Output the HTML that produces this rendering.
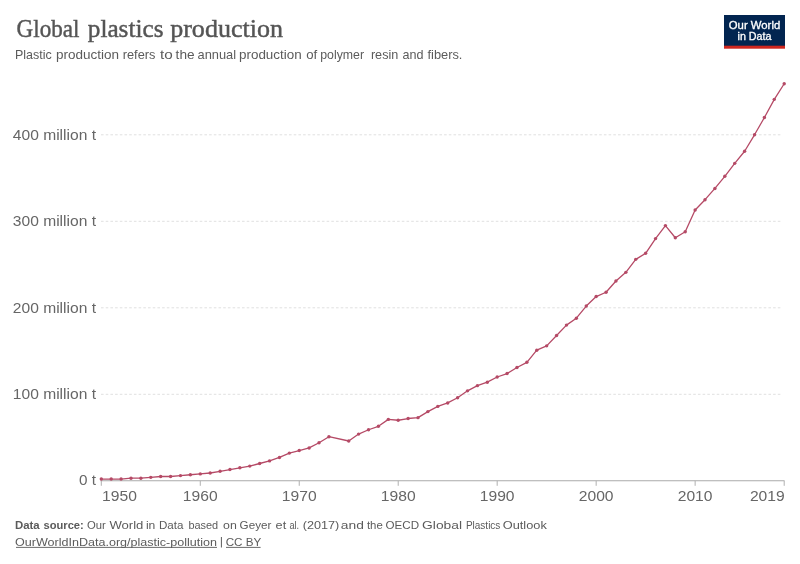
<!DOCTYPE html>
<html><head><meta charset="utf-8"><style>
html,body{margin:0;padding:0;background:#fff;width:800px;height:564px;overflow:hidden}
svg{display:block;will-change:transform}
</style></head><body>
<svg width="800" height="564" viewBox="0 0 800 564">
<rect width="800" height="564" fill="#fff"/>
<g font-family="Liberation Serif" font-size="26" stroke="#555" stroke-width="0.45" fill="#555">
<text x="16.6" y="36.7" textLength="62.8" lengthAdjust="spacingAndGlyphs">Global</text>
<text x="87.8" y="36.7" textLength="75.7" lengthAdjust="spacingAndGlyphs">plastics</text>
<text x="170.2" y="36.7" textLength="112.8" lengthAdjust="spacingAndGlyphs">production</text>
</g>
<g font-family="Liberation Sans" font-size="13.2" fill="#5b5b5b"><text x="14.99" y="59" textLength="36.78" lengthAdjust="spacingAndGlyphs">Plastic</text><text x="55.91" y="59" textLength="63.03" lengthAdjust="spacingAndGlyphs">production</text><text x="122.74" y="59" textLength="32.68" lengthAdjust="spacingAndGlyphs">refers</text><text x="160.0" y="59" textLength="12.74" lengthAdjust="spacingAndGlyphs">to</text><text x="175.6" y="59" textLength="18.96" lengthAdjust="spacingAndGlyphs">the</text><text x="197.5" y="59" textLength="38.56" lengthAdjust="spacingAndGlyphs">annual</text><text x="239.01" y="59" textLength="62.65" lengthAdjust="spacingAndGlyphs">production</text><text x="306.25" y="59" textLength="11.01" lengthAdjust="spacingAndGlyphs">of</text><text x="320.26" y="59" textLength="43.8" lengthAdjust="spacingAndGlyphs">polymer</text><text x="370.93" y="59" textLength="27.36" lengthAdjust="spacingAndGlyphs">resin</text><text x="402.5" y="59" textLength="21.0" lengthAdjust="spacingAndGlyphs">and</text><text x="427.5" y="59" textLength="34.91" lengthAdjust="spacingAndGlyphs">fibers.</text></g>
<g>
<rect x="724" y="15" width="61" height="31" fill="#022550"/>
<rect x="724" y="45.7" width="61" height="3" fill="#ce261e"/>
<text x="754.5" y="28.8" font-family="Liberation Sans" font-size="10.4" fill="#fff" stroke="#fff" stroke-width="0.3" text-anchor="middle" textLength="51.4" lengthAdjust="spacingAndGlyphs">Our World</text>
<text x="754.5" y="39.9" font-family="Liberation Sans" font-size="10.4" fill="#fff" stroke="#fff" stroke-width="0.3" text-anchor="middle" textLength="34" lengthAdjust="spacingAndGlyphs">in Data</text>
</g>
<line x1="101" y1="394.30" x2="782.5" y2="394.30" stroke="#e0e0e0" stroke-width="1" stroke-dasharray="2.6,2.1"/><line x1="101" y1="307.80" x2="782.5" y2="307.80" stroke="#e0e0e0" stroke-width="1" stroke-dasharray="2.6,2.1"/><line x1="101" y1="221.30" x2="782.5" y2="221.30" stroke="#e0e0e0" stroke-width="1" stroke-dasharray="2.6,2.1"/><line x1="101" y1="134.80" x2="782.5" y2="134.80" stroke="#e0e0e0" stroke-width="1" stroke-dasharray="2.6,2.1"/>
<line x1="100.5" y1="480.80" x2="784.5" y2="480.80" stroke="#aaa" stroke-width="1.1"/>
<line x1="101.30" y1="480.80" x2="101.30" y2="485.80" stroke="#b0b0b0" stroke-width="1"/><line x1="200.27" y1="480.80" x2="200.27" y2="485.80" stroke="#b0b0b0" stroke-width="1"/><line x1="299.24" y1="480.80" x2="299.24" y2="485.80" stroke="#b0b0b0" stroke-width="1"/><line x1="398.21" y1="480.80" x2="398.21" y2="485.80" stroke="#b0b0b0" stroke-width="1"/><line x1="497.18" y1="480.80" x2="497.18" y2="485.80" stroke="#b0b0b0" stroke-width="1"/><line x1="596.16" y1="480.80" x2="596.16" y2="485.80" stroke="#b0b0b0" stroke-width="1"/><line x1="695.13" y1="480.80" x2="695.13" y2="485.80" stroke="#b0b0b0" stroke-width="1"/><line x1="784.20" y1="480.80" x2="784.20" y2="485.80" stroke="#b0b0b0" stroke-width="1"/>
<g font-family="Liberation Sans" font-size="15" fill="#666"><text x="96" y="399.30" text-anchor="end" textLength="83.2" lengthAdjust="spacingAndGlyphs">100 million t</text><text x="96" y="312.80" text-anchor="end" textLength="83.2" lengthAdjust="spacingAndGlyphs">200 million t</text><text x="96" y="226.30" text-anchor="end" textLength="83.2" lengthAdjust="spacingAndGlyphs">300 million t</text><text x="96" y="139.80" text-anchor="end" textLength="83.2" lengthAdjust="spacingAndGlyphs">400 million t</text><text x="96" y="485.4" text-anchor="end" textLength="17" lengthAdjust="spacingAndGlyphs">0 t</text><text x="102.10" y="500.7" text-anchor="start" textLength="34.8" lengthAdjust="spacingAndGlyphs">1950</text><text x="200.27" y="500.7" text-anchor="middle" textLength="34.8" lengthAdjust="spacingAndGlyphs">1960</text><text x="299.24" y="500.7" text-anchor="middle" textLength="34.8" lengthAdjust="spacingAndGlyphs">1970</text><text x="398.21" y="500.7" text-anchor="middle" textLength="34.8" lengthAdjust="spacingAndGlyphs">1980</text><text x="497.18" y="500.7" text-anchor="middle" textLength="34.8" lengthAdjust="spacingAndGlyphs">1990</text><text x="596.16" y="500.7" text-anchor="middle" textLength="34.8" lengthAdjust="spacingAndGlyphs">2000</text><text x="695.13" y="500.7" text-anchor="middle" textLength="34.8" lengthAdjust="spacingAndGlyphs">2010</text><text x="784.70" y="500.7" text-anchor="end" textLength="34.8" lengthAdjust="spacingAndGlyphs">2019</text></g>
<polyline points="101.30,479.07 111.20,479.07 121.09,479.07 130.99,478.20 140.89,478.20 150.79,477.34 160.68,476.48 170.58,476.48 180.48,475.61 190.37,474.75 200.27,473.88 210.17,473.01 220.07,471.29 229.96,469.56 239.86,467.82 249.76,466.10 259.65,463.50 269.55,460.91 279.45,457.44 289.34,453.12 299.24,450.53 309.14,447.93 319.04,442.74 328.93,436.69 348.73,441.01 358.62,434.09 368.52,429.76 378.42,426.31 388.32,419.38 398.21,420.25 408.11,418.52 418.01,417.66 427.90,411.60 437.80,406.41 447.70,402.95 457.60,397.76 467.49,390.84 477.39,385.65 487.29,382.19 497.18,377.00 507.08,373.54 516.98,367.49 526.88,362.30 536.77,350.19 546.67,345.86 556.57,335.48 566.46,325.10 576.36,318.18 586.26,306.07 596.16,296.56 606.05,292.23 615.95,280.99 625.85,272.34 635.74,259.36 645.64,253.31 655.54,238.60 665.43,225.62 675.33,237.74 685.23,231.68 695.13,210.06 705.02,199.68 714.92,188.43 724.82,176.32 734.71,163.35 744.61,151.24 754.51,134.80 764.41,117.50 774.30,99.34 784.20,83.76" fill="none" stroke="#b54a66" stroke-width="1.3" stroke-linejoin="round"/>
<g fill="#b54a66"><circle cx="101.30" cy="479.07" r="1.7"/><circle cx="111.20" cy="479.07" r="1.7"/><circle cx="121.09" cy="479.07" r="1.7"/><circle cx="130.99" cy="478.20" r="1.7"/><circle cx="140.89" cy="478.20" r="1.7"/><circle cx="150.79" cy="477.34" r="1.7"/><circle cx="160.68" cy="476.48" r="1.7"/><circle cx="170.58" cy="476.48" r="1.7"/><circle cx="180.48" cy="475.61" r="1.7"/><circle cx="190.37" cy="474.75" r="1.7"/><circle cx="200.27" cy="473.88" r="1.7"/><circle cx="210.17" cy="473.01" r="1.7"/><circle cx="220.07" cy="471.29" r="1.7"/><circle cx="229.96" cy="469.56" r="1.7"/><circle cx="239.86" cy="467.82" r="1.7"/><circle cx="249.76" cy="466.10" r="1.7"/><circle cx="259.65" cy="463.50" r="1.7"/><circle cx="269.55" cy="460.91" r="1.7"/><circle cx="279.45" cy="457.44" r="1.7"/><circle cx="289.34" cy="453.12" r="1.7"/><circle cx="299.24" cy="450.53" r="1.7"/><circle cx="309.14" cy="447.93" r="1.7"/><circle cx="319.04" cy="442.74" r="1.7"/><circle cx="328.93" cy="436.69" r="1.7"/><circle cx="348.73" cy="441.01" r="1.7"/><circle cx="358.62" cy="434.09" r="1.7"/><circle cx="368.52" cy="429.76" r="1.7"/><circle cx="378.42" cy="426.31" r="1.7"/><circle cx="388.32" cy="419.38" r="1.7"/><circle cx="398.21" cy="420.25" r="1.7"/><circle cx="408.11" cy="418.52" r="1.7"/><circle cx="418.01" cy="417.66" r="1.7"/><circle cx="427.90" cy="411.60" r="1.7"/><circle cx="437.80" cy="406.41" r="1.7"/><circle cx="447.70" cy="402.95" r="1.7"/><circle cx="457.60" cy="397.76" r="1.7"/><circle cx="467.49" cy="390.84" r="1.7"/><circle cx="477.39" cy="385.65" r="1.7"/><circle cx="487.29" cy="382.19" r="1.7"/><circle cx="497.18" cy="377.00" r="1.7"/><circle cx="507.08" cy="373.54" r="1.7"/><circle cx="516.98" cy="367.49" r="1.7"/><circle cx="526.88" cy="362.30" r="1.7"/><circle cx="536.77" cy="350.19" r="1.7"/><circle cx="546.67" cy="345.86" r="1.7"/><circle cx="556.57" cy="335.48" r="1.7"/><circle cx="566.46" cy="325.10" r="1.7"/><circle cx="576.36" cy="318.18" r="1.7"/><circle cx="586.26" cy="306.07" r="1.7"/><circle cx="596.16" cy="296.56" r="1.7"/><circle cx="606.05" cy="292.23" r="1.7"/><circle cx="615.95" cy="280.99" r="1.7"/><circle cx="625.85" cy="272.34" r="1.7"/><circle cx="635.74" cy="259.36" r="1.7"/><circle cx="645.64" cy="253.31" r="1.7"/><circle cx="655.54" cy="238.60" r="1.7"/><circle cx="665.43" cy="225.62" r="1.7"/><circle cx="675.33" cy="237.74" r="1.7"/><circle cx="685.23" cy="231.68" r="1.7"/><circle cx="695.13" cy="210.06" r="1.7"/><circle cx="705.02" cy="199.68" r="1.7"/><circle cx="714.92" cy="188.43" r="1.7"/><circle cx="724.82" cy="176.32" r="1.7"/><circle cx="734.71" cy="163.35" r="1.7"/><circle cx="744.61" cy="151.24" r="1.7"/><circle cx="754.51" cy="134.80" r="1.7"/><circle cx="764.41" cy="117.50" r="1.7"/><circle cx="774.30" cy="99.34" r="1.7"/><circle cx="784.20" cy="83.76" r="1.7"/></g>
<g font-family="Liberation Sans" font-size="11.4" fill="#5b5b5b">
<text x="15.0" y="529.4" font-weight="bold" textLength="24.7" lengthAdjust="spacingAndGlyphs">Data</text><text x="43.49" y="529.4" font-weight="bold" textLength="40.31" lengthAdjust="spacingAndGlyphs">source:</text>
<text x="86.9" y="529.4" textLength="18.8" lengthAdjust="spacingAndGlyphs">Our</text><text x="109.4" y="529.4" textLength="34.04" lengthAdjust="spacingAndGlyphs">World</text><text x="145.9" y="529.4" textLength="9.44" lengthAdjust="spacingAndGlyphs">in</text><text x="159.0" y="529.4" textLength="24.48" lengthAdjust="spacingAndGlyphs">Data</text><text x="188.41" y="529.4" textLength="29.8" lengthAdjust="spacingAndGlyphs">based</text><text x="223.1" y="529.4" textLength="13.71" lengthAdjust="spacingAndGlyphs">on</text><text x="239.61" y="529.4" textLength="31.69" lengthAdjust="spacingAndGlyphs">Geyer</text><text x="275.6" y="529.4" textLength="10.56" lengthAdjust="spacingAndGlyphs">et</text><text x="289.4" y="529.4" textLength="9.65" lengthAdjust="spacingAndGlyphs">al.</text><text x="302.74" y="529.4" textLength="36.56" lengthAdjust="spacingAndGlyphs">(2017)</text><text x="340.89" y="529.4" textLength="23.07" lengthAdjust="spacingAndGlyphs">and</text><text x="366.9" y="529.4" textLength="15.84" lengthAdjust="spacingAndGlyphs">the</text><text x="385.6" y="529.4" textLength="33.52" lengthAdjust="spacingAndGlyphs">OECD</text><text x="422.1" y="529.4" textLength="39.98" lengthAdjust="spacingAndGlyphs">Global</text><text x="465.9" y="529.4" textLength="34.48" lengthAdjust="spacingAndGlyphs">Plastics</text><text x="502.77" y="529.4" textLength="44.07" lengthAdjust="spacingAndGlyphs">Outlook</text>
<text x="15.0" y="545.8" textLength="201.99" lengthAdjust="spacingAndGlyphs">OurWorldInData.org/plastic-pollution</text><text x="225.68" y="545.8" textLength="35.62" lengthAdjust="spacingAndGlyphs">CC BY</text>
<rect x="16" y="546.9" width="201" height="0.9"/>
<rect x="220.9" y="537" width="1" height="10.5"/>
<rect x="226" y="546.9" width="34.6" height="0.9"/>
</g>
</svg>
</body></html>
